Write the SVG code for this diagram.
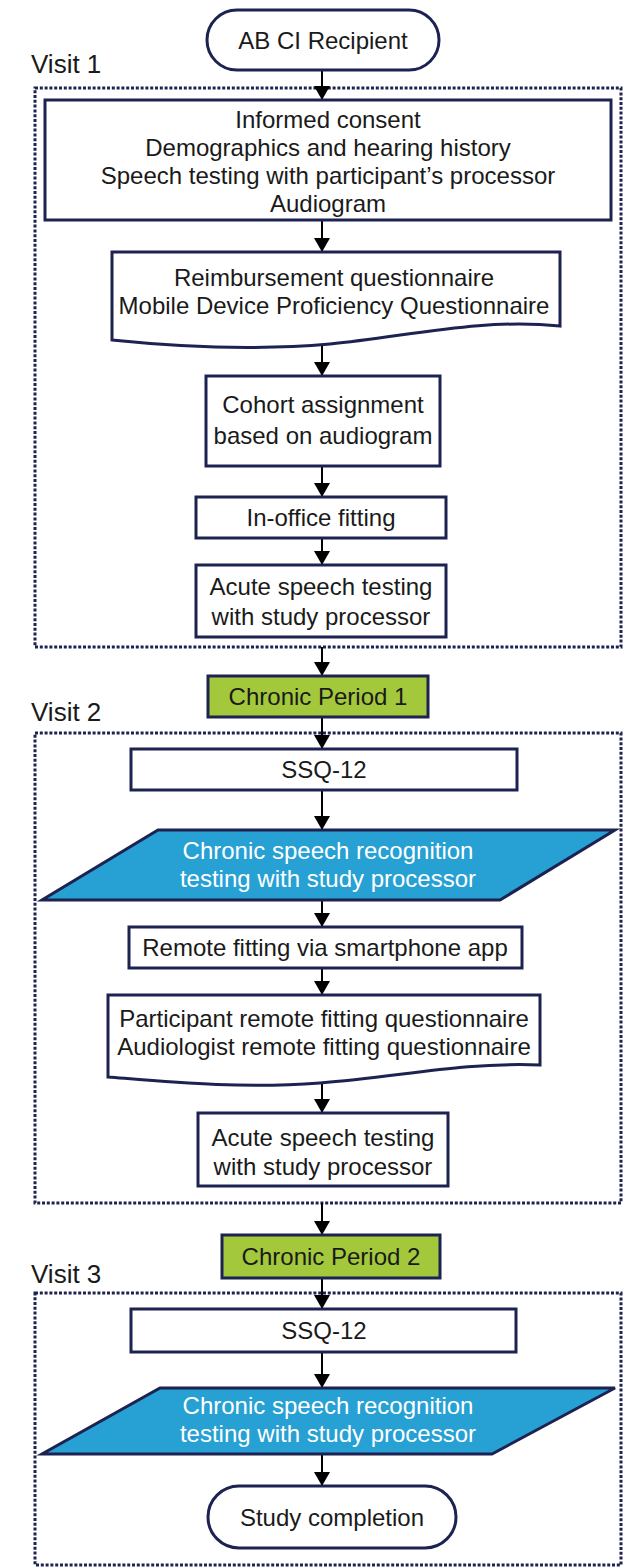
<svg xmlns="http://www.w3.org/2000/svg" width="631" height="1567" viewBox="0 0 631 1567">
<style>
text{font-family:"Liberation Sans",Arial,sans-serif;font-size:24px;fill:#1a1a1a;text-anchor:middle}
.lbl{font-size:26px;text-anchor:start}
.w{fill:#ffffff}
.n{fill:#ffffff;stroke:#1c2350;stroke-width:3}
.g{fill:#a3c83c;stroke:#1c2350;stroke-width:3}
.b{fill:#27a1d4;stroke:#1c2350;stroke-width:3;stroke-linejoin:miter}
.dot{fill:none;stroke:#1c2350;stroke-width:3;stroke-dasharray:3 1.8}
.c{stroke:#000;stroke-width:2;fill:none;marker-end:url(#ah)}
</style>
<defs>
<marker id="ah" viewBox="0 0 14 16" refX="14" refY="8" markerWidth="14" markerHeight="16" markerUnits="userSpaceOnUse" orient="auto">
<path d="M0,0 L14,8 L0,16 Z" fill="#000"/>
</marker>
</defs>
<rect width="631" height="1567" fill="#fff"/>

<g id="visit1">
<text class="lbl" x="31" y="73">Visit 1</text>
<rect class="dot" x="35" y="88" width="586" height="559"/>
</g>
<g id="visit2">
<text class="lbl" x="31" y="721">Visit 2</text>
<rect class="dot" x="35" y="733" width="586" height="470"/>
</g>
<g id="visit3">
<text class="lbl" x="31" y="1283">Visit 3</text>
<rect class="dot" x="35" y="1293" width="586" height="272"/>
</g>

<g id="connectors">
<line class="c" x1="322" y1="70" x2="322" y2="100"/>
<line class="c" x1="322" y1="220" x2="322" y2="252"/>
<line class="c" x1="322" y1="346" x2="322" y2="376"/>
<line class="c" x1="322" y1="466" x2="322" y2="497"/>
<line class="c" x1="322" y1="538" x2="322" y2="565"/>
<line class="c" x1="322" y1="647" x2="322" y2="676"/>
<line class="c" x1="322" y1="717" x2="322" y2="749"/>
<line class="c" x1="322" y1="790" x2="322" y2="830"/>
<line class="c" x1="322" y1="900" x2="322" y2="927"/>
<line class="c" x1="322" y1="968" x2="322" y2="995"/>
<line class="c" x1="322" y1="1084" x2="322" y2="1113"/>
<line class="c" x1="322" y1="1203" x2="322" y2="1235"/>
<line class="c" x1="322" y1="1278" x2="322" y2="1309"/>
<line class="c" x1="322" y1="1352" x2="322" y2="1388"/>
<line class="c" x1="322" y1="1454" x2="322" y2="1486"/>
</g>

<g id="n-recipient">
<rect class="n" x="207" y="10" width="232" height="60" rx="30"/>
<text x="323" y="49">AB CI Recipient</text>
</g>

<g id="n-consent">
<rect class="n" x="45" y="100" width="566" height="120"/>
<text x="328" y="128">Informed consent</text>
<text x="328" y="156">Demographics and hearing history</text>
<text x="328" y="184">Speech testing with participant’s processor</text>
<text x="328" y="212">Audiogram</text>
</g>

<g id="n-reimb">
<path class="n" d="M112,252 H560 V326 C480,318 410,336 330,344 C250,351 170,346 112,340 Z"/>
<text x="334" y="286">Reimbursement questionnaire</text>
<text x="334" y="314">Mobile Device Proficiency Questionnaire</text>
</g>

<g id="n-cohort">
<rect class="n" x="206" y="376" width="234" height="90"/>
<text x="323" y="413">Cohort assignment</text>
<text x="323" y="444">based on audiogram</text>
</g>

<g id="n-inoffice">
<rect class="n" x="196" y="497" width="250" height="41"/>
<text x="321" y="526">In-office fitting</text>
</g>

<g id="n-acute1">
<rect class="n" x="196" y="565" width="250" height="72"/>
<text x="321" y="595">Acute speech testing</text>
<text x="321" y="625">with study processor</text>
</g>

<g id="n-cp1">
<rect class="g" x="208" y="676" width="220" height="41"/>
<text x="318" y="705">Chronic Period 1</text>
</g>

<g id="n-ssq1">
<rect class="n" x="131" y="749" width="386" height="41"/>
<text x="324" y="778">SSQ-12</text>
</g>

<g id="n-chronic1">
<path class="b" d="M158,830 H615 L500,900 H42 Z"/>
<text class="w" x="328" y="859">Chronic speech recognition</text>
<text class="w" x="328" y="887">testing with study processor</text>
</g>

<g id="n-remote">
<rect class="n" x="129" y="927" width="393" height="41"/>
<text x="325" y="956">Remote fitting via smartphone app</text>
</g>

<g id="n-rfq">
<path class="n" d="M108,995 H540 V1065 C460,1062 400,1077 320,1083 C240,1089 170,1082 108,1077 Z"/>
<text x="324" y="1027">Participant remote fitting questionnaire</text>
<text x="324" y="1055">Audiologist remote fitting questionnaire</text>
</g>

<g id="n-acute2">
<rect class="n" x="198" y="1113" width="250" height="73"/>
<text x="323" y="1146">Acute speech testing</text>
<text x="323" y="1175">with study processor</text>
</g>

<g id="n-cp2">
<rect class="g" x="222" y="1235" width="218" height="43"/>
<text x="331" y="1265">Chronic Period 2</text>
</g>

<g id="n-ssq2">
<rect class="n" x="131" y="1309" width="385" height="43"/>
<text x="324" y="1339">SSQ-12</text>
</g>

<g id="n-chronic2">
<path class="b" d="M160,1388 H615 L492,1454 H42 Z"/>
<text class="w" x="328" y="1414">Chronic speech recognition</text>
<text class="w" x="328" y="1442">testing with study processor</text>
</g>

<g id="n-complete">
<rect class="n" x="208" y="1486" width="248" height="62" rx="31"/>
<text x="332" y="1526">Study completion</text>
</g>
</svg>
